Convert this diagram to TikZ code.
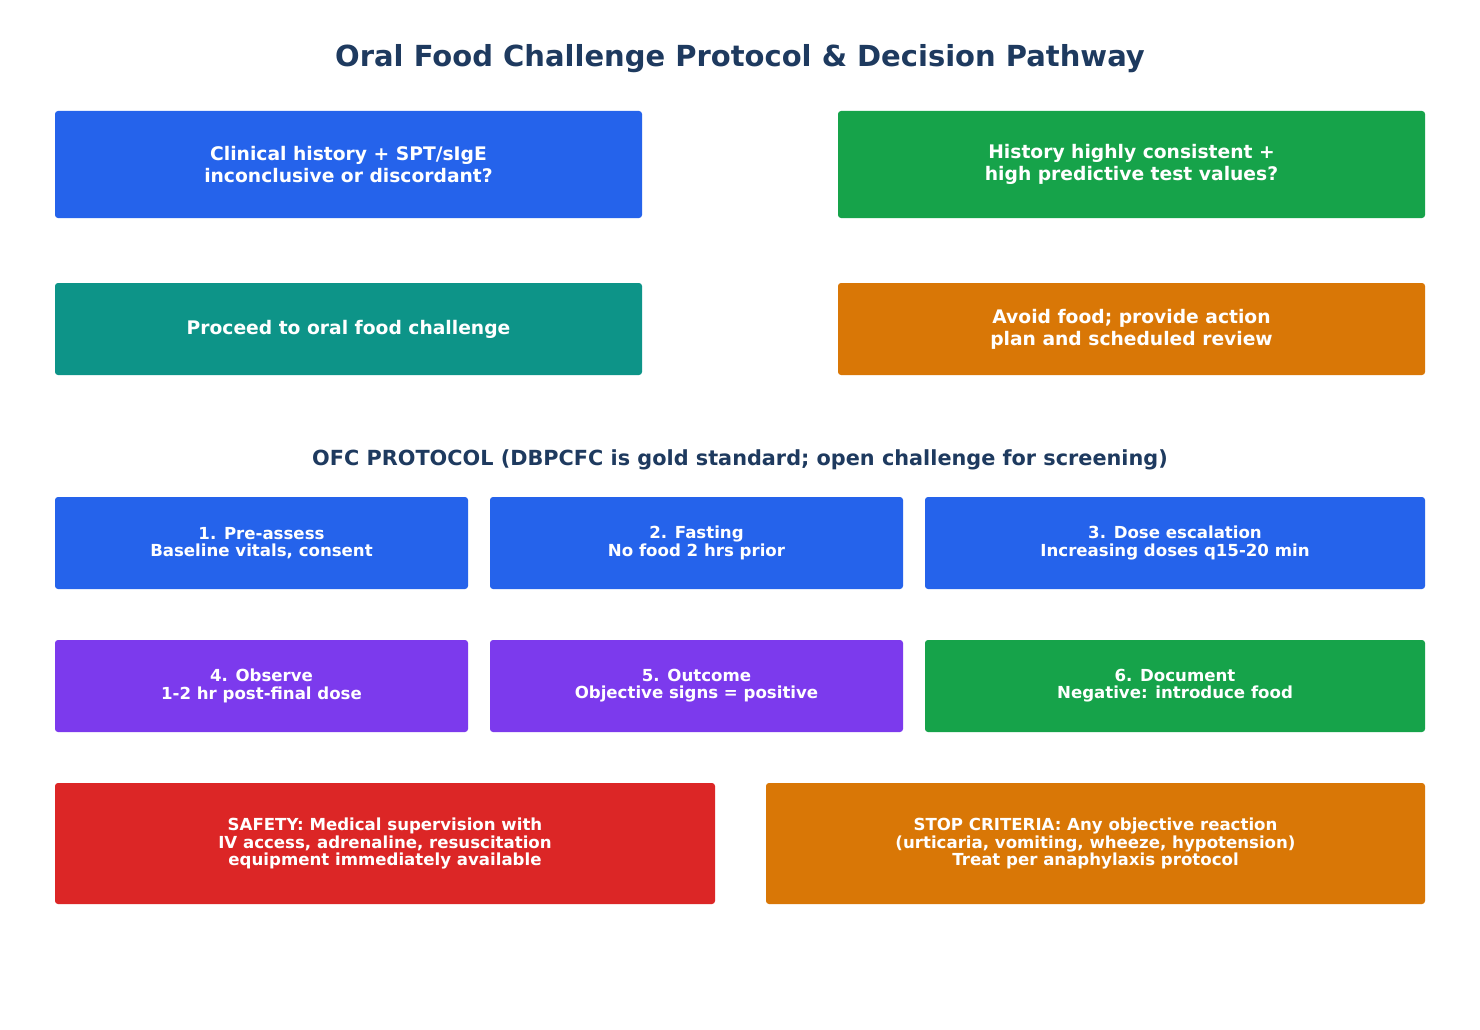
\documentclass[tikz,border=0pt]{standalone}
\usepackage{fontspec}
\setmainfont{DejaVu Sans}
\definecolor{cblue}{HTML}{2563EB}
\definecolor{cgreen}{HTML}{16A34A}
\definecolor{cteal}{HTML}{0D9488}
\definecolor{corange}{HTML}{D97706}
\definecolor{cpurple}{HTML}{7C3AED}
\definecolor{cred}{HTML}{DC2626}
\definecolor{cnavy}{HTML}{1E3A5F}
\tikzset{
  box/.style={rounded corners=3pt, draw=none, text=white, align=center, inner sep=0pt, font=\bfseries},
  big/.style={box, font=\fontsize{18.7}{22}\selectfont\bfseries},
  small/.style={box, font=\fontsize{16.6}{17.2}\selectfont\bfseries},
  tall/.style={box, font=\fontsize{16.6}{17.6}\selectfont\bfseries},
}
\begin{document}
\begin{tikzpicture}[x=1pt,y=-1pt]
\useasboundingbox[fill=white] (0,0) rectangle (1480,1030);
\node[text=cnavy, font=\fontsize{29}{33}\selectfont\bfseries] (title) at (740,59) {Oral Food Challenge Protocol \& Decision Pathway};
% top decision boxes
\node[big, fill=cblue, minimum width=587pt, minimum height=107pt] (q1) at (348.5,164.5) {Clinical history + SPT/sIgE\\inconclusive or discordant?};
\node[big, fill=cgreen, minimum width=587pt, minimum height=107pt] (q2) at (1131.5,164.5) {History highly consistent +\\high predictive test values?};
\node[big, fill=cteal, minimum width=587pt, minimum height=92pt] (a1) at (348.5,329) {Proceed to oral food challenge};
\node[big, fill=corange, minimum width=587pt, minimum height=92pt] (a2) at (1131.5,329) {Avoid food; provide action\\plan and scheduled review};
% heading
\node[text=cnavy, font=\fontsize{20.8}{24}\selectfont\bfseries] (head) at (740,460) {OFC PROTOCOL (DBPCFC is gold standard; open challenge for screening)};
% protocol rows
\node[small, fill=cblue, minimum width=413pt, minimum height=92pt] (s1) at (261.5,543) {1. Pre-assess\\Baseline vitals, consent};
\node[small, fill=cblue, minimum width=413pt, minimum height=92pt] (s2) at (696.5,543) {2. Fasting\\No food 2 hrs prior};
\node[small, fill=cblue, minimum width=500pt, minimum height=92pt] (s3) at (1175,543) {3. Dose escalation\\Increasing doses q15-20 min};
\node[small, fill=cpurple, minimum width=413pt, minimum height=92pt] (s4) at (261.5,686) {4. Observe\\1-2 hr post-final dose};
\node[small, fill=cpurple, minimum width=413pt, minimum height=92pt] (s5) at (696.5,686) {5. Outcome\\Objective signs = positive};
\node[small, fill=cgreen, minimum width=500pt, minimum height=92pt] (s6) at (1175,686) {6. Document\\Negative: introduce food};
% safety
\node[tall, fill=cred, minimum width=660pt, minimum height=121pt] (safe) at (385,843.5) {SAFETY: Medical supervision with\\IV access, adrenaline, resuscitation\\equipment immediately available};
\node[tall, fill=corange, minimum width=659pt, minimum height=121pt] (stop) at (1095.5,843.5) {STOP CRITERIA: Any objective reaction\\(urticaria, vomiting, wheeze, hypotension)\\Treat per anaphylaxis protocol};
\end{tikzpicture}
\end{document}
